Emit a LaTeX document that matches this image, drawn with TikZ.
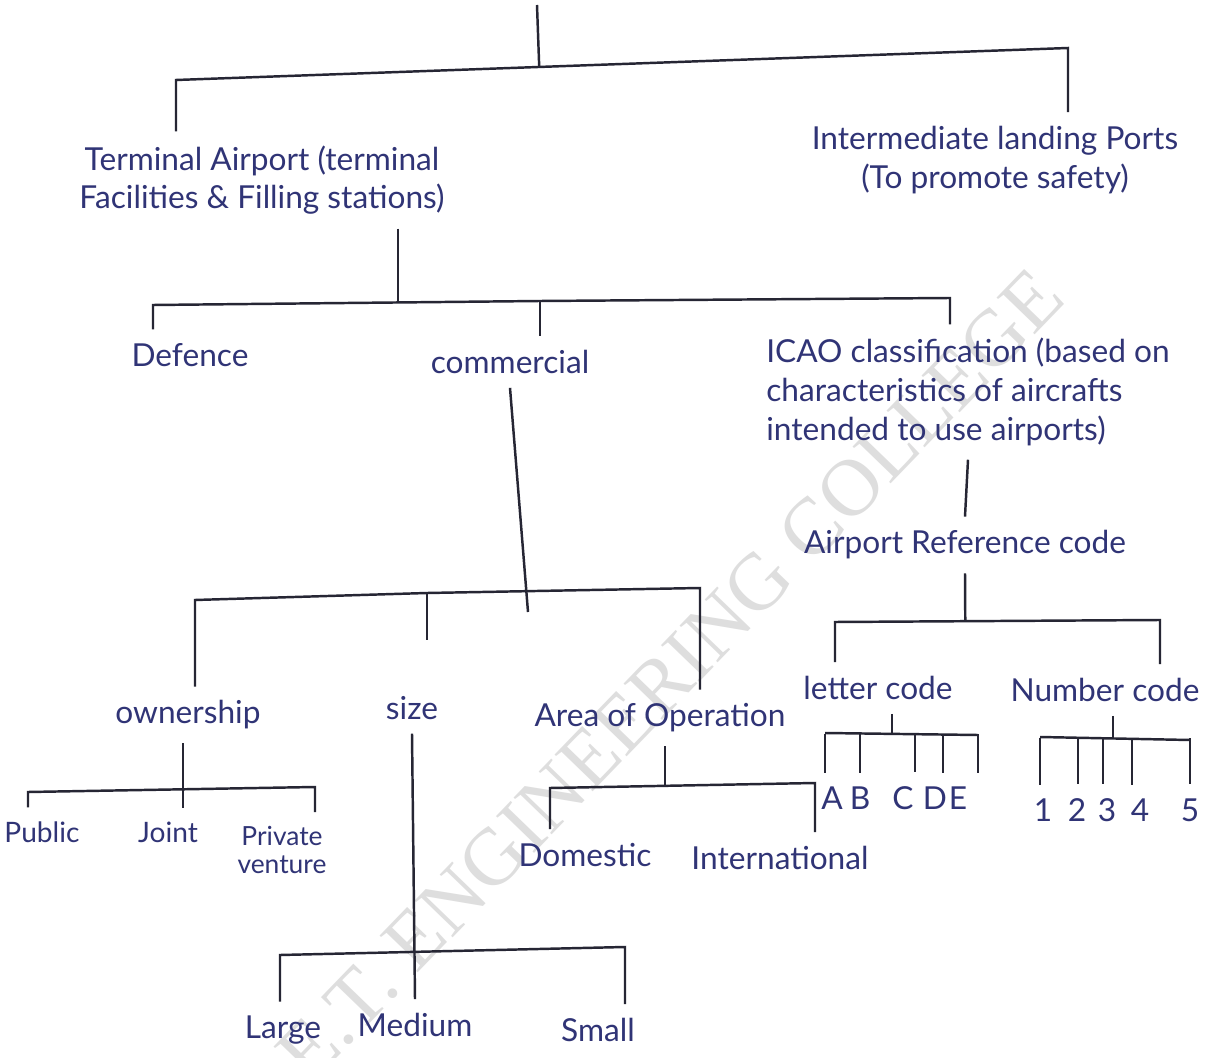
\documentclass[tikz,border=0pt]{standalone}
\usepackage{fontspec}
\setmainfont{Lato}
\newfontfamily\markfont{Liberation Serif}
\usepackage{xcolor}
\usepackage{tikz}
\usetikzlibrary{positioning, calc}

\definecolor{inkblue}{RGB}{48,52,118}
\definecolor{inkgrey}{RGB}{38,38,52}

\begin{document}
\begin{tikzpicture}[x=0.01cm, y=-0.01cm,
    lbl/.style={text=inkblue, font=\fontsize{9}{11}\selectfont, inner sep=1pt, outer sep=3pt, align=center},
    leaf/.style={lbl, font=\fontsize{8}{9}\selectfont},
    wire/.style={draw=inkgrey, line width=0.7pt}]
  \useasboundingbox (0,0) rectangle (1221,1058);
  \fill[white] (0,0) rectangle (1221,1058);
  % Watermark
  \begin{scope}
    \clip (0,0) rectangle (1221,1058);
    \node[text=black!13, font=\markfont\fontsize{23}{23}\selectfont, rotate=46] (mark) at (670,675) {E.T. ENGINEERING COLLEGE};
  \end{scope}

  % Top split
  \coordinate (root) at (537,5);
  \coordinate (b0l) at (176,80);
  \coordinate (b0r) at (1068,48);
  \node[lbl] (term) at (262,180) {Terminal Airport (terminal\\Facilities \& Filling stations)};
  \node[lbl] (inter) at (995,160) {Intermediate landing Ports\\(To promote safety)};
  \draw[wire] (root) -- ($(b0l)!(root)!(b0r)$);
  \draw[wire] (b0l |- term.north) -- (b0l) -- (b0r) -- (b0r |- inter.north);

  % Terminal airport
  \coordinate (s1) at (398,302);
  \coordinate (b1l) at (153,305);
  \coordinate (b1m) at (540,301);
  \coordinate (b1r) at (950,298);
  \node[lbl] (def) at (190,355) {Defence};
  \node[lbl] (comm) at (510,362) {commercial};
  \node[lbl, align=left] (icao) at (968,392) {ICAO classification (based on\\characteristics of aircrafts\\intended to use airports)};
  \draw[wire] (s1 |- term.south) -- (s1);
  \draw[wire] (b1l |- def.north) -- (b1l) -- (b1m) -- (b1r) -- (b1r |- icao.north);
  \draw[wire] (b1m) -- (b1m |- comm.north);

  % ICAO
  \node[lbl] (arc) at (965,545) {Airport Reference code};
  \draw[wire] (icao.south) -- (arc.north);
  \coordinate (b3l) at (835,622);
  \coordinate (b3r) at (1160,620);
  \node[lbl] (letc) at (878,688) {letter code};
  \node[lbl] (numc) at (1105,690) {Number code};
  \draw[wire] (arc.south) -- ($(b3l)!(arc.south)!(b3r)$);
  \draw[wire] (b3l |- letc.north) -- (b3l) -- (b3r) -- (b3r |- numc.north);

  % Letter code
  \coordinate (lc) at (892,733);
  \draw[wire] (lc |- letc.south) -- (lc);
  \draw[wire] (825,733) -- (978,735);
  \foreach \l/\dx/\lx in {A/825/832, B/860/860, C/915/903, D/943/935, E/978/958} {
    \node[lbl] (let\l) at (\lx,798) {\l};
    \draw[wire] (\dx,734) -- (\dx,734 |- let\l.north);
  }

  % Number code
  \coordinate (nc) at (1113,738);
  \draw[wire] (nc |- numc.south) -- (nc);
  \draw[wire] (1040,737) -- (1190,740);
  \foreach \n/\dx/\nx in {1/1040/1043, 2/1078/1077, 3/1103/1107, 4/1132/1140, 5/1190/1190} {
    \node[lbl] (num\n) at (\nx,810) {\n};
    \draw[wire] (\dx,738) -- (\dx,738 |- num\n.north);
  }

  % Commercial
  \coordinate (cstem) at (528,612);
  \coordinate (b2l) at (195,600);
  \coordinate (b2m) at (427,593);
  \coordinate (b2r) at (700,588);
  \node[lbl] (own) at (188,715) {ownership};
  \node[lbl] (size) at (412,708) {size};
  \node[lbl] (area) at (660,718) {Area of Operation};
  \draw[wire] (comm.south) -- (cstem);
  \draw[wire] (b2l |- own.north) -- (b2l) -- (b2m) -- (b2r) -- (b2r |- area.north);
  \draw[wire, shorten >=12pt] (b2m) -- (b2m |- size.north);

  % Ownership
  \coordinate (oc) at (183,790);
  \coordinate (b4l) at (28,792);
  \coordinate (b4r) at (315,787);
  \node[leaf] (pub) at (42,832) {Public};
  \node[leaf] (joint) at (168,832) {Joint};
  \node[leaf, font=\fontsize{7.5}{8}\selectfont] (priv) at (282,850) {Private\\venture};
  \draw[wire] (oc |- own.south) -- (oc);
  \draw[wire] (b4l |- pub.north) -- (b4l) -- (b4r) -- (b4r |- priv.north);
  \draw[wire] (oc) -- (oc |- joint.north);

  % Area of operation
  \coordinate (ac) at (665,786);
  \coordinate (b5l) at (550,788);
  \coordinate (b5r) at (815,783);
  \node[lbl] (dom) at (585,855) {Domestic};
  \node[lbl] (intl) at (780,858) {International};
  \draw[wire] (ac |- area.south) -- (ac);
  \draw[wire] (b5l |- dom.north) -- (b5l) -- (b5r) -- (b5r |- intl.north);

  % Size
  \coordinate (b6l) at (280,955);
  \coordinate (b6r) at (625,947);
  \node[lbl] (large) at (283,1030) {Large};
  \node[lbl] (med) at (415,1025) {Medium};
  \node[lbl] (small) at (598,1030) {Small};
  \draw[wire] (size.south) -- (med.north);
  \draw[wire] (b6l |- large.north) -- (b6l) -- (b6r) -- (b6r |- small.north);
\end{tikzpicture}
\end{document}
